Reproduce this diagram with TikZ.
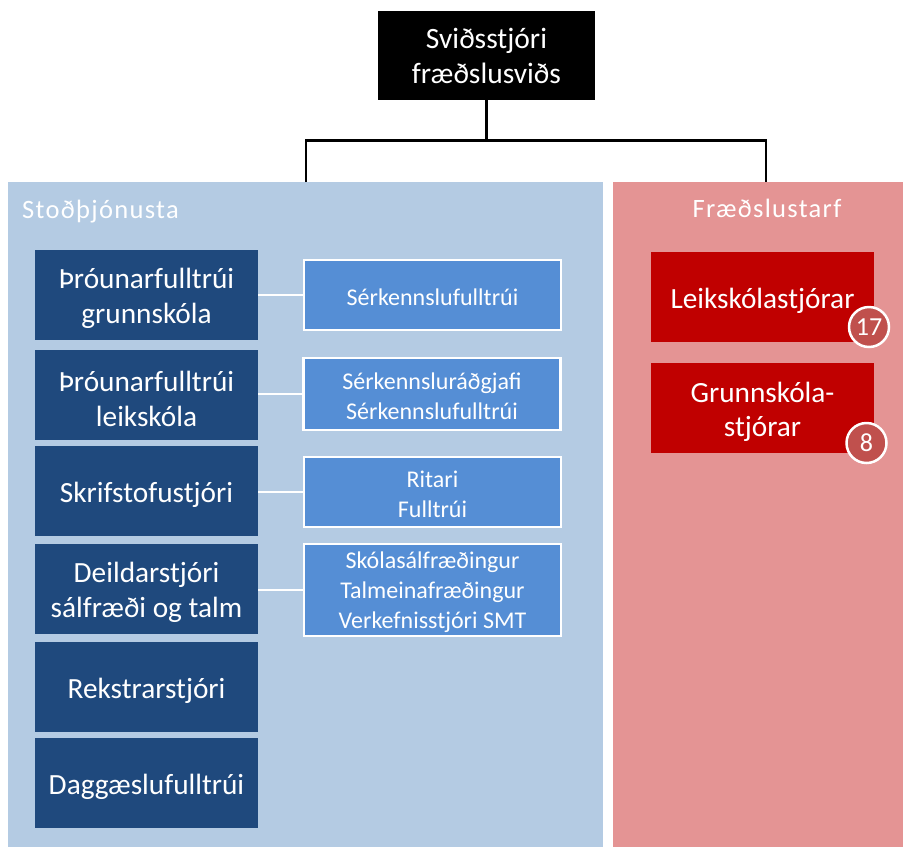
\documentclass[tikz,border=0pt]{standalone}
\usepackage{fontspec}
\setmainfont{Carlito}
\definecolor{panelblue}{HTML}{B4CBE3}
\definecolor{panelred}{HTML}{E49494}
\definecolor{dkblue}{HTML}{1F497D}
\definecolor{ltblue}{HTML}{558ED5}
\definecolor{redbox}{HTML}{C00000}
\definecolor{badgered}{HTML}{C0504D}
\tikzset{
  boxtxt/.style={text=white, align=center, inner sep=0pt},
  headbox/.style={fill=black, text=white, minimum width=217pt, minimum height=89pt, inner sep=0pt, align=center, font=\fontsize{29.5}{35}\selectfont},
  darkbox/.style={fill=dkblue, minimum width=223pt, minimum height=90pt, inner sep=0pt,
    label={[boxtxt, yshift=-3.5pt, font=\fontsize{29.3}{35}\selectfont]center:#1}},
  lightbox/.style={fill=ltblue, draw=white, line width=2.5pt, minimum width=257pt, inner sep=0pt,
    label={[boxtxt, yshift=-2pt, font=\fontsize{24}{30}\selectfont]center:#1}},
  rbox/.style={fill=redbox, minimum width=223pt, minimum height=90pt, inner sep=0pt,
    label={[boxtxt, yshift=-3.5pt, font=\fontsize{29.3}{34}\selectfont]center:#1}},
  badge/.style={circle, fill=badgered, draw=white, line width=2.5pt, text=white, minimum size=40pt, inner sep=0pt, font=\fontsize{26}{30}\selectfont},
  ptitle/.style={text=white, inner sep=0pt, font=\fontsize{26.5}{30}\selectfont\addfontfeatures{LetterSpace=5}},
  conn/.style={line width=2.8pt, black},
  wconn/.style={line width=2.5pt, white}
}
\begin{document}
\begin{tikzpicture}[x=1pt,y=-1pt]
\useasboundingbox (0,0) rectangle (903,847);
\fill[white] (0,0) rectangle (903,847);
% panels
\fill[panelblue] (8,182) rectangle (603,847);
\fill[panelred] (613,182) rectangle (903,847);
\node[ptitle, anchor=base west] (t1) at (22,218) {Stoðþjónusta};
\node[ptitle, anchor=base] (t2) at (767,217) {Fræðslustarf};
% head
\node[headbox] (head) at (486.5,55.5) {Sviðsstjóri\\fræðslusviðs};
\coordinate (bus) at (487,140.5);
\coordinate (jl) at (306,182);
\coordinate (jr) at (766,182);
\draw[conn] (head.south) -- (head.south |- bus);
\draw[conn, line join=miter] (jl) |- (head.south |- bus) -| (jr);
% dark boxes
\node[darkbox={Þróunarfulltrúi\\grunnskóla}] (d1) at (146.5,295) {};
\node[darkbox={Þróunarfulltrúi\\leikskóla}] (d2) at (146.5,395) {};
\node[darkbox={Skrifstofustjóri}] (d3) at (146.5,491) {};
\node[darkbox={Deildarstjóri\\sálfræði og talm}] (d4) at (146.5,588.5) {};
\node[darkbox={Rekstrarstjóri}] (d5) at (146.5,687) {};
\node[darkbox={Daggæslufulltrúi}] (d6) at (146.5,783) {};
% light boxes
\node[lightbox={Sérkennslufulltrúi}, minimum height=70pt] (l1) at (432.5,295) {};
\node[lightbox={Sérkennsluráðgjafi\\Sérkennslufulltrúi}, minimum height=72pt] (l2) at (432,394) {};
\node[lightbox={Ritari\\Fulltrúi}, minimum height=70pt] (l3) at (432.5,492) {};
\node[lightbox={Skólasálfræðingur\\Talmeinafræðingur\\Verkefnisstjóri SMT}, minimum height=92pt] (l4) at (432.5,590) {};
\draw[wconn] (d1.east |- l1.west) -- (l1.west);
\draw[wconn] (d2.east |- l2.west) -- (l2.west);
\draw[wconn] (d3.east |- l3.west) -- (l3.west);
\draw[wconn] (d4.east |- l4.west) -- (l4.west);
% red boxes
\node[rbox={Leikskólastjórar}] (r1) at (762.5,297) {};
\node[rbox={Grunnskóla-\\stjórar}] (r2) at (762.5,408) {};
\node[badge] (b1) at (869,327) {17};
\node[badge] (b2) at (866.5,443) {8};
\end{tikzpicture}
\end{document}
